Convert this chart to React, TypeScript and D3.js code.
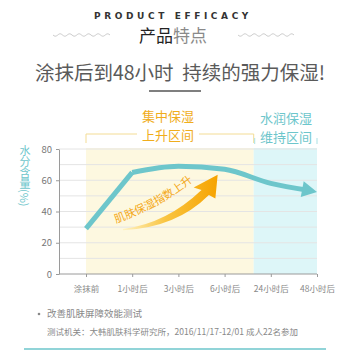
import React, { useEffect, useRef } from "react";
import * as d3 from "d3";

const categories = ["涂抹前", "1小时后", "3小时后", "6小时后", "24小时后", "48小时后"];
const moisture = [29, 65, 69, 67, 58, 52.5];
const yTicks = [0, 20, 40, 60, 80];
const gridValues = [10, 20, 30, 40, 50, 60, 70, 80];
const zoneUp = ["集中保湿", "上升区间"];
const zoneKeep = ["水润保湿", "维持区间"];
const arrowLabel = "肌肤保湿指数上升";
const yTitle = "水分含量(%)";
const headerEn = "PRODUCT EFFICACY";
const headline = "涂抹后到48小时  持续的强力保湿!";
const noteTitle = "改善肌肤屏障效能测试";
const noteBody = "测试机关：大韩肌肤科学研究所，2016/11/17-12/01 成人22名参加";

const FONT = "'Noto Sans CJK SC', 'Noto Sans', sans-serif";
const TEAL = "#6dc6cb";
const ORANGE = "#f4a818";

export default function App() {
  const ref = useRef<SVGSVGElement | null>(null);

  useEffect(() => {
    const svg = d3.select(ref.current);
    svg.selectAll("*").remove();
    svg.attr("font-family", FONT);

    const x = d3.scalePoint<string>().domain(categories).range([86, 317]);
    const xi = d3.scaleLinear().domain([0, categories.length - 1]).range([86, 317]);
    const y = d3.scaleLinear().domain([0, 80]).range([274, 149]);
    const axisLeftX = 59;
    const step = x.step();
    const splitX = (x("6小时后") as number) + step * 0.63;

    // header
    svg.append("text").attr("x", 173).attr("y", 19).attr("text-anchor", "middle")
      .attr("font-size", 9).attr("font-weight", "bold").attr("letter-spacing", 3.6)
      .attr("fill", "#333").attr("font-family", "'DejaVu Sans', sans-serif").text(headerEn);
    const t2 = svg.append("text").attr("x", 173).attr("y", 42).attr("text-anchor", "middle")
      .attr("font-size", 17);
    t2.append("tspan").attr("fill", "#222").text("产品");
    t2.append("tspan").attr("fill", "#8a8a8a").text("特点");

    const wave = (x0: number, x1: number, yc: number) => {
      const pts = d3.range(0, 61).map((i) => {
        const xx = x0 + ((x1 - x0) * i) / 60;
        return [xx, yc + 1.2 * Math.sin(((xx - x0) / (x1 - x0)) * Math.PI * 2 * 6)] as [number, number];
      });
      svg.append("path").attr("d", d3.line()(pts)).attr("fill", "none")
        .attr("stroke", "#c4c4c4").attr("stroke-width", 0.9);
    };
    wave(53, 110, 35);
    wave(238, 294, 35);

    svg.append("text").attr("x", 180).attr("y", 80).attr("text-anchor", "middle")
      .attr("font-size", 19.5).attr("fill", "#5a5a5a").attr("xml:space", "preserve")
      .style("white-space", "pre").text(headline);
    svg.append("line").attr("x1", 149).attr("x2", 201).attr("y1", 91).attr("y2", 91)
      .attr("stroke", "#555").attr("stroke-width", 1.4);

    // bands
    svg.append("rect").attr("x", x(categories[0]) as number).attr("y", y(80) - 1)
      .attr("width", splitX - (x(categories[0]) as number)).attr("height", y(0) - y(80) + 1)
      .attr("fill", "#fdf8e0");
    svg.append("rect").attr("x", splitX).attr("y", y(80) - 1)
      .attr("width", (x(categories[5]) as number) - splitX).attr("height", y(0) - y(80) + 1)
      .attr("fill", "#ddf6f8");

    // grid
    svg.append("g").selectAll("line").data(gridValues).join("line")
      .attr("x1", axisLeftX).attr("x2", x(categories[5]) as number)
      .attr("y1", (d) => y(d)).attr("y2", (d) => y(d))
      .attr("stroke", "#e4e4e4").attr("stroke-width", 1);

    // brackets
    const bY = 134;
    const upX0 = x(categories[0]) as number;
    const bc = "#f3dc95";
    const bracket = svg.append("g").attr("stroke", bc).attr("stroke-width", 1).attr("fill", "none");
    bracket.append("path").attr("d", `M${upX0},143V${bY}H137M199,${bY}H${splitX}V143`);
    svg.append("g").attr("fill", "#f0ad1c").attr("font-size", 13).attr("text-anchor", "middle")
      .selectAll("text").data(zoneUp).join("text")
      .attr("x", 168).attr("y", (d, i) => 121 + i * 19).text((d) => d);
    svg.append("g").attr("fill", TEAL).attr("font-size", 13).attr("text-anchor", "middle")
      .selectAll("text").data(zoneKeep).join("text")
      .attr("x", 286).attr("y", (d, i) => 123 + i * 19).text((d) => d);
    svg.append("path").attr("d", `M${splitX + 1},138V144M${(x(categories[5]) as number)},138V144`)
      .attr("stroke", "#a9e1e4").attr("fill", "none");

    // axes
    const yAxis = svg.append("g").attr("transform", `translate(${axisLeftX},0)`)
      .call(d3.axisLeft(y).tickValues(yTicks).tickSize(3).tickSizeOuter(0).tickPadding(4));
    yAxis.select(".domain").attr("stroke", "#9a9a9a");
    yAxis.selectAll(".tick line").attr("stroke", "#9a9a9a");
    yAxis.selectAll(".tick text").attr("fill", "#777").attr("font-size", 9.5).attr("font-family", FONT);

    const xAxis = svg.append("g").attr("transform", `translate(0,${y(0)})`)
      .call(d3.axisBottom(x).tickSize(3).tickSizeOuter(0).tickPadding(9));
    xAxis.select(".domain").remove();
    xAxis.selectAll(".tick line").attr("stroke", "#9a9a9a");
    xAxis.selectAll(".tick text").attr("fill", "#888").attr("font-size", 8.5).attr("font-family", FONT);
    svg.append("line").attr("x1", axisLeftX).attr("x2", x(categories[5]) as number)
      .attr("y1", y(0)).attr("y2", y(0)).attr("stroke", "#9a9a9a");

    // y title
    svg.append("text").attr("x", 25).attr("y", 145).attr("font-size", 11).attr("fill", TEAL)
      .style("writing-mode", "vertical-rl").style("glyph-orientation-vertical", "0")
      .text(yTitle);

    // orange arrow
    const defs = svg.append("defs");
    const grad = defs.append("linearGradient").attr("id", "og").attr("x1", "0").attr("x2", "1")
      .attr("y1", "0").attr("y2", "0");
    grad.append("stop").attr("offset", "0").attr("stop-color", "#fff3c4");
    grad.append("stop").attr("offset", "0.45").attr("stop-color", "#f9c440");
    grad.append("stop").attr("offset", "1").attr("stop-color", "#f6a300");
    const P = (i: number, v: number) => [xi(i), y(v)] as [number, number];
    const s0 = P(0.8, 28), s1 = P(0.8, 28.8);
    const cB = P(1.95, 29.5), nB = P(2.66, 50.5);
    const hR = P(2.8, 48.3), tip = P(2.85, 63.5), hL = P(2.33, 55.3);
    const nT = P(2.5, 53.8), cT = P(1.75, 32.5);
    const ap = d3.path();
    ap.moveTo(...s0);
    ap.quadraticCurveTo(cB[0], cB[1], nB[0], nB[1]);
    ap.lineTo(...hR);
    ap.lineTo(...tip);
    ap.lineTo(...hL);
    ap.lineTo(...nT);
    ap.quadraticCurveTo(cT[0], cT[1], s1[0], s1[1]);
    ap.closePath();
    svg.append("path").attr("d", ap.toString()).attr("fill", "url(#og)");

    const tp0 = P(0.65, 32.5), tpc = P(1.6, 42.5), tp1 = P(2.34, 60);
    const tpath = d3.path();
    tpath.moveTo(...tp0);
    tpath.quadraticCurveTo(tpc[0], tpc[1], tp1[0], tp1[1]);
    defs.append("path").attr("id", "tp").attr("d", tpath.toString());
    svg.append("text").attr("font-size", 11).attr("fill", ORANGE)
      .append("textPath").attr("href", "#tp").text(arrowLabel);

    // data line
    const pts = categories.map((c, i) => [x(c) as number, y(moisture[i])] as [number, number]);
    const last = pts[pts.length - 1];
    const prev = pts[pts.length - 2];
    const ang = Math.atan2(last[1] - prev[1], last[0] - prev[0]);
    const back = 9;
    const lineEnd: [number, number] = [last[0] - back * Math.cos(ang), last[1] - back * Math.sin(ang)];
    svg.append("path")
      .attr("d", d3.line().curve(d3.curveLinear)(pts.slice(0, 2)))
      .attr("fill", "none").attr("stroke", TEAL).attr("stroke-width", 5).attr("stroke-linejoin", "round");
    svg.append("path")
      .attr("d", d3.line().curve(d3.curveMonotoneX)([...pts.slice(1, -1), lineEnd]))
      .attr("fill", "none").attr("stroke", TEAL).attr("stroke-width", 5).attr("stroke-linejoin", "round");
    const hl = 15, hw = 8;
    const bx = last[0] - hl * Math.cos(ang), by = last[1] - hl * Math.sin(ang);
    const head = [
      last,
      [bx + hw * Math.sin(ang), by - hw * Math.cos(ang)],
      [bx - hw * Math.sin(ang), by + hw * Math.cos(ang)],
    ] as [number, number][];
    svg.append("path").attr("d", d3.line()(head) + "Z").attr("fill", TEAL);

    // notes
    svg.append("circle").attr("cx", 39).attr("cy", 314).attr("r", 1.3).attr("fill", "#888");
    svg.append("text").attr("x", 47).attr("y", 317).attr("font-size", 9.5).attr("fill", "#888").text(noteTitle);
    svg.append("text").attr("x", 47).attr("y", 335).attr("font-size", 8.5).attr("fill", "#888").text(noteBody);
    svg.append("line").attr("x1", 24).attr("x2", 326).attr("y1", 349).attr("y2", 349)
      .attr("stroke", TEAL).attr("stroke-width", 1.5);
  }, []);

  return (
    <div style={{ position: "fixed", left: 0, top: 0 }}>
      <svg ref={ref} width={350} height={350} style={{ display: "block", background: "#fff" }} />
    </div>
  );
}
